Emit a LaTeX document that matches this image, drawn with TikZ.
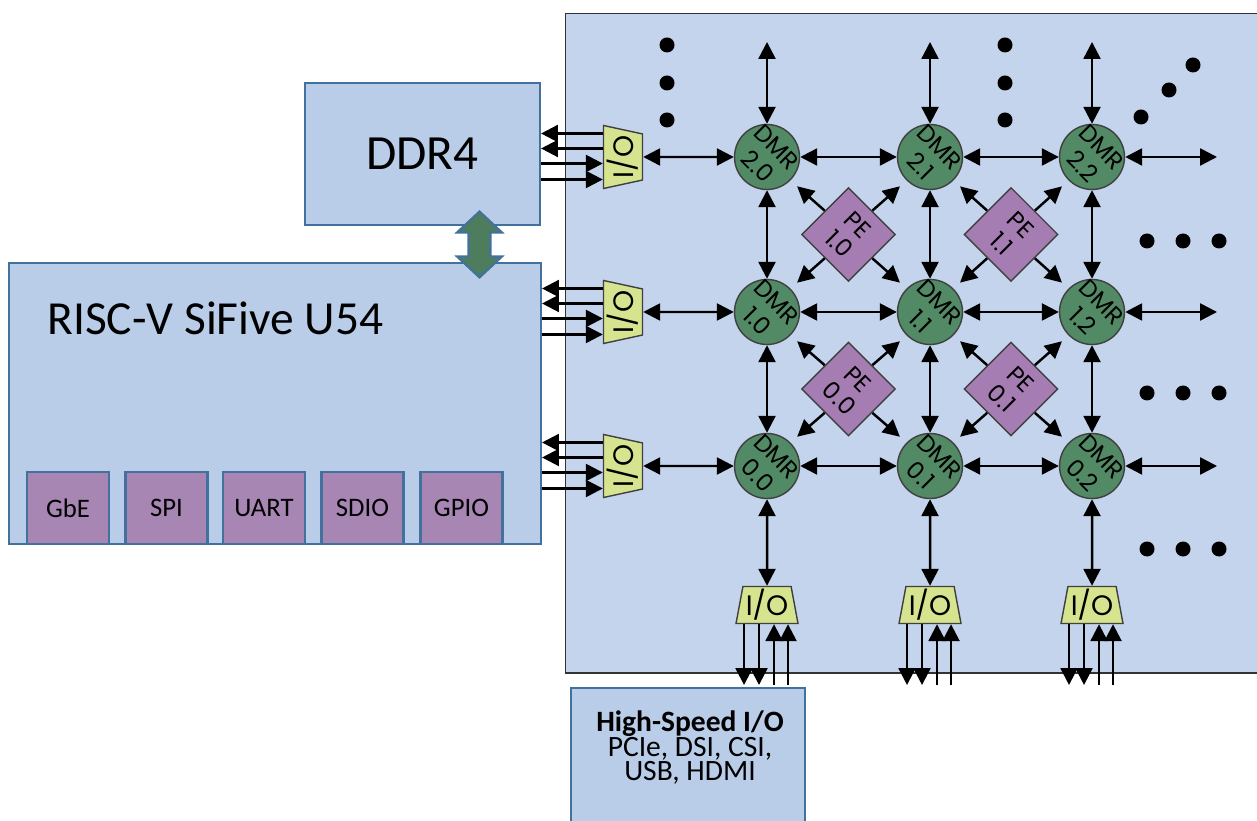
\documentclass[tikz,border=0pt]{standalone}
\usepackage{fontspec}
\setmainfont{Carlito}
\newfontfamily\geofont{Poppins}
\usetikzlibrary{arrows.meta,calc,positioning,shapes.geometric}
\definecolor{meshbg}{RGB}{196,212,236}
\definecolor{boxfill}{RGB}{185,205,233}
\definecolor{boxline}{RGB}{65,113,156}
\definecolor{dmrgreen}{RGB}{82,138,102}
\definecolor{pepurple}{RGB}{165,125,178}
\definecolor{ifpurple}{RGB}{168,134,180}
\definecolor{ioyellow}{RGB}{214,227,143}
\definecolor{arrgreen}{RGB}{78,125,94}
\begin{document}
\begin{tikzpicture}[x=1cm, y=-1cm,
  box/.style={draw=boxline, line width=0.6pt, fill=boxfill},
  ifbox/.style={draw=boxline, line width=0.6pt, fill=ifpurple, minimum width=0.82cm, minimum height=0.72cm, font=\fontsize{7.6}{8}\selectfont},
  dmr/.style={circle, draw=black!75, line width=0.4pt, fill=dmrgreen, minimum size=0.65cm, inner sep=0pt},
  pe/.style={diamond, aspect=1, draw=black!75, line width=0.4pt, fill=pepurple, minimum width=0.94cm, minimum height=0.94cm, inner sep=0pt},
  lbl/.style={rotate=-45, align=center, inner sep=0pt, font=\geofont\fontsize{6.8}{7.6}\selectfont},
  io/.style={trapezium, trapezium stretches=true, draw=black!75, line width=0.4pt, fill=ioyellow, inner sep=0pt, font=\geofont\fontsize{8}{8}\selectfont},
  arr/.style={line width=0.7pt, -{Triangle[length=4.8pt,width=4.8pt]}},
  darr/.style={line width=0.7pt, {Triangle[length=4.8pt,width=4.8pt]}-{Triangle[length=4.8pt,width=4.8pt]}}]
  \useasboundingbox (0,0) rectangle (12.57,8.21);
  % mesh area
  \draw[black!80, line width=0.5pt, fill=meshbg] (5.655,0.135) rectangle (12.7,6.73);
  \coordinate (topend) at (0,0.42);
  \coordinate (rightend) at (12.17,0);
  \coordinate (lowend) at (0,6.85);

  % host side
  \node[box, minimum width=2.35cm, minimum height=1.42cm, font=\fontsize{14}{16}\selectfont] (ddr) at (4.225,1.54) {DDR4};
  \node[box, minimum width=5.32cm, minimum height=2.81cm] (cpu) at (2.75,4.035) {};
  \node[anchor=west, font=\fontsize{13.5}{15}\selectfont] (cpulbl) at (0.35,3.18) {RISC-V SiFive U54};
  \foreach \n/\x in {GbE/0.68,SPI/1.665,UART/2.64,SDIO/3.625,GPIO/4.615}
    \node[ifbox] (\n) at (\x,5.08) {\n};
  \coordinate (lnk) at (4.795,2.445);
  \draw[draw=boxline, line width=0.6pt, fill=arrgreen] (lnk) ++(0,-0.33) -- ++(0.225,0.21) -- ++(-0.115,0) -- ++(0,0.24)
    -- ++(0.115,0) -- ++(-0.225,0.21) -- ++(-0.225,-0.21) -- ++(0.115,0) -- ++(0,-0.24) -- ++(-0.115,0) -- cycle;
  \node[box, anchor=north, minimum width=2.34cm, minimum height=1.5cm] (hs) at (6.88,6.87) {};
  \node[anchor=north, align=center, inner sep=0pt, font=\fontsize{8.4}{7.0}\selectfont] (hslbl) at (6.90,7.10)
    {\textbf{High-Speed I/O}\\PCIe, DSI, CSI,\\USB, HDMI};

  % DMR grid and PEs
  \foreach \r/\y in {0/4.66,1/3.12,2/1.57} {
    \foreach \c/\x in {0/7.67,1/9.30,2/10.92} {
      \node[dmr] (d\r\c) at (\x,\y) {};
      \node[lbl] at (d\r\c) {DMR\\\r.\c};
    }
  }
  \foreach \r/\y in {0/3.89,1/2.345} {
    \foreach \c/\x in {0/8.485,1/10.11} {
      \node[pe] (p\r\c) at (\x,\y) {};
      \node[lbl] at (p\r\c) {PE\\\r.\c};
    }
  }
  \foreach \r in {0,1,2} {
    \node[io, rotate=90, trapezium left angle=104, trapezium right angle=104, minimum width=0.63cm, minimum height=0.39cm] (iol\r) at (6.23,0 |- d\r0) {I/O};
  }
  \foreach \c in {0,1,2} {
    \node[io, trapezium left angle=79, trapezium right angle=79, minimum width=0.62cm, minimum height=0.37cm] (iob\c) at (d0\c |- 0,6.05) {I/O};
  }

  % links
  \foreach \r in {0,1,2} {
    \draw[darr] (iol\r.south) -- (d\r0.west);
    \draw[darr] (d\r0.east) -- (d\r1.west);
    \draw[darr] (d\r1.east) -- (d\r2.west);
    \draw[darr] (d\r2.east) -- (d\r2.east -| rightend);
  }
  \foreach \c in {0,1,2} {
    \draw[darr] (d2\c.north) -- (d2\c.north |- topend);
    \draw[darr] (d2\c.south) -- (d1\c.north);
    \draw[darr] (d1\c.south) -- (d0\c.north);
    \draw[darr] (d0\c.south) -- (iob\c.north);
  }
  \foreach \r in {0,1} {
    \foreach \c in {0,1} {
      \pgfmathtruncatemacro{\ru}{\r+1}
      \pgfmathtruncatemacro{\cu}{\c+1}
      \draw[arr, shorten >=2.5pt] (p\r\c.north west) -- (d\ru\c.south east);
      \draw[arr, shorten >=2.5pt] (p\r\c.north east) -- (d\ru\cu.south west);
      \draw[arr, shorten >=2.5pt] (p\r\c.south west) -- (d\r\c.north east);
      \draw[arr, shorten >=2.5pt] (p\r\c.south east) -- (d\r\cu.north west);
    }
  }

  % off-chip wires
  \foreach \r/\tgt in {2/ddr,1/cpu,0/cpu} {
    \foreach \dy in {-0.235,-0.085} {
      \path ($(iol\r.north)+(0,\dy)$) coordinate (t);
      \draw[arr] (t) -- (t -| \tgt.east);
    }
    \foreach \dy in {0.065,0.225} {
      \path ($(iol\r.north)+(0,\dy)$) coordinate (t);
      \draw[arr] (t -| \tgt.east) -- (t);
    }
  }
  \foreach \c in {0,1,2} {
    \foreach \dx in {-0.23,-0.08} {
      \path ($(iob\c.south)+(\dx,0)$) coordinate (t);
      \draw[arr] (t) -- (t |- lowend);
    }
    \foreach \dx in {0.07,0.21} {
      \path ($(iob\c.south)+(\dx,0)$) coordinate (t);
      \draw[arr] (t |- lowend) -- (t);
    }
  }

  % ellipses
  \foreach \x/\y in {6.67/0.45,6.67/0.83,6.67/1.20,10.05/0.45,10.05/0.83,10.05/1.20,
                     11.41/1.17,11.69/0.90,11.93/0.65,
                     11.47/2.41,11.83/2.41,12.19/2.41,11.47/3.93,11.83/3.93,12.19/3.93,
                     11.47/5.49,11.83/5.49,12.19/5.49}
    \fill (\x,\y) circle (0.075cm);
\end{tikzpicture}
\end{document}
